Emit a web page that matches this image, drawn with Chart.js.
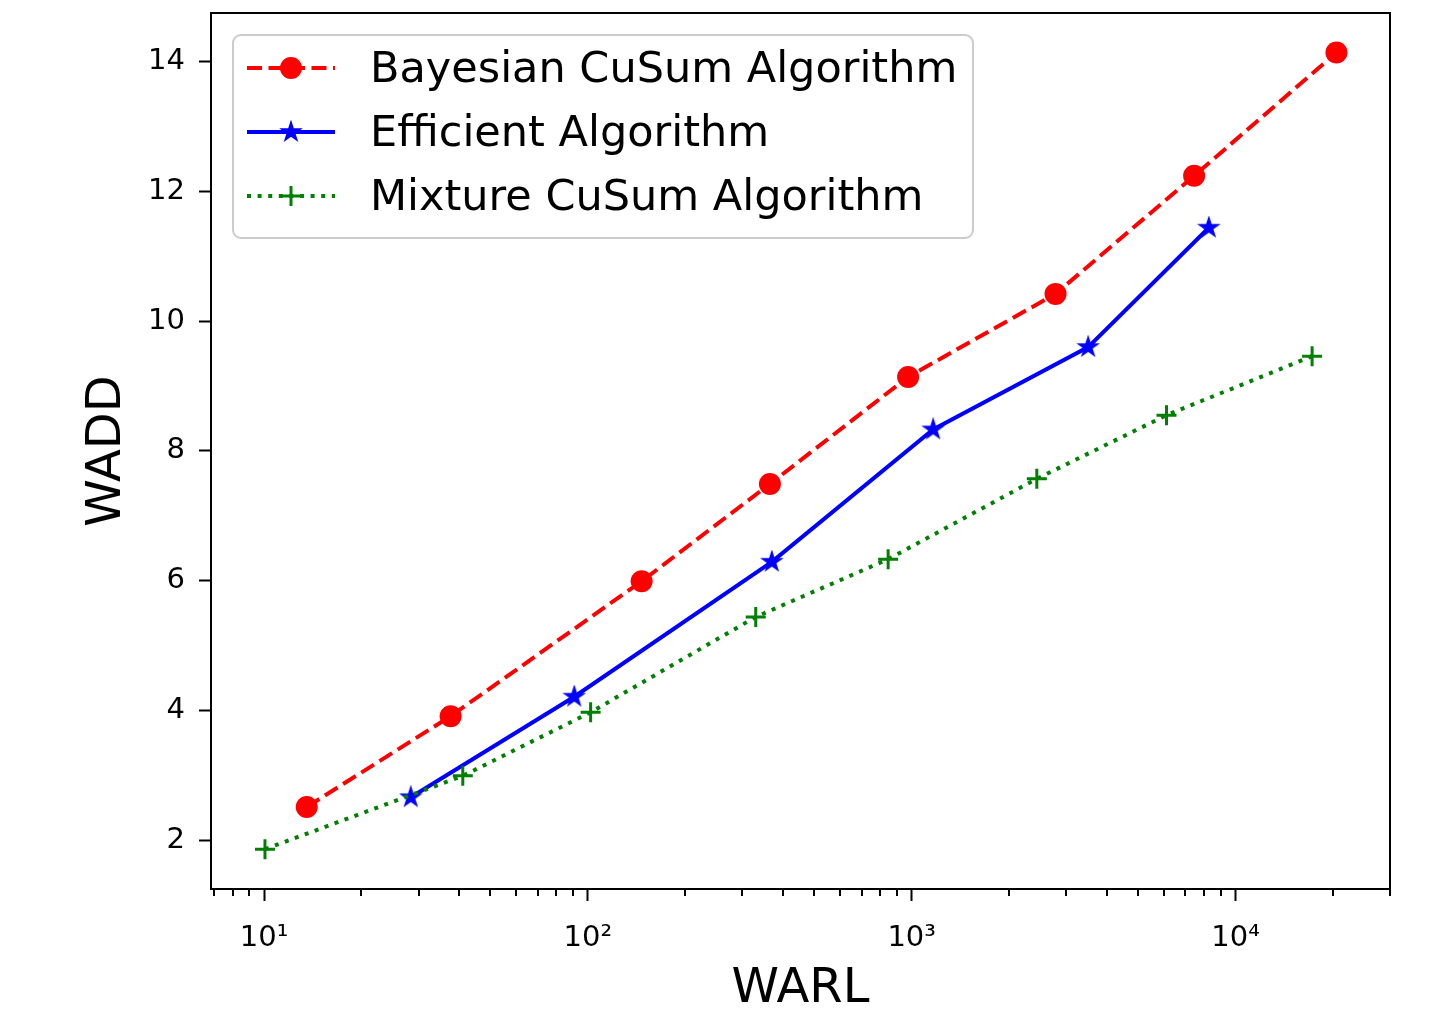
<!DOCTYPE html>
<html>
<head>
<meta charset="utf-8">
<script src="https://cdn.jsdelivr.net/npm/chart.js@4.4.1/dist/chart.umd.min.js"></script>
<style>
  body { margin: 0; background: #fff; }
  #wrap { width: 1449px; height: 1018px; }
</style>
</head>
<body>
<div id="wrap"><canvas id="warlChart"></canvas></div>
<script>
// values (WARL on x, WADD on y)
var bayesWarl = [13.55, 37.7, 146.6, 365, 975, 2782, 7452, 20500];
var bayesWadd = [2.51, 3.91, 5.99, 7.49, 9.14, 10.42, 12.24, 14.14];
var effWarl = [28.4, 90.8, 370, 1165, 3508, 8272];
var effWadd = [2.66, 4.21, 6.29, 8.33, 9.60, 11.44];
var mixWarl = [10.07, 41.1, 102, 330, 846, 2435, 6123, 17240];
var mixWadd = [1.86, 2.99, 3.97, 5.44, 6.33, 7.57, 8.55, 9.46];

var seriesNames = ['Bayesian CuSum Algorithm', 'Efficient Algorithm', 'Mixture CuSum Algorithm'];
var xMajorTicks = [10, 100, 1000, 10000];
var xTickLabels = ['10\u00b9', '10\u00b2', '10\u00b3', '10\u2074'];
var xMinorTicks = [7, 8, 9, 20, 30, 40, 50, 60, 70, 80, 90, 200, 300, 400, 500, 600, 700, 800, 900,
  2000, 3000, 4000, 5000, 6000, 7000, 8000, 9000, 20000, 30000];
var yTicks = [2, 4, 6, 8, 10, 12, 14];

const FONT = "'DejaVu Sans', sans-serif";

const toPoints = (xs, ys) => xs.map((x, i) => ({x: x, y: ys[i]}));

// filled five point star like matplotlib's '*'
const makeStar = (r, color) => {
  const c = document.createElement('canvas');
  c.width = c.height = Math.ceil(2 * r + 4);
  const g = c.getContext('2d');
  const cx = c.width / 2, cy = c.height / 2;
  g.beginPath();
  for (let i = 0; i < 10; i++) {
    const rad = i % 2 === 0 ? r : r * 0.382;
    const a = -Math.PI / 2 + i * Math.PI / 5;
    g.lineTo(cx + rad * Math.cos(a), cy + rad * Math.sin(a));
  }
  g.closePath();
  g.fillStyle = color;
  g.strokeStyle = color;
  g.lineWidth = 1.5;
  g.fill();
  g.stroke();
  return c;
};
const starImg = makeStar(10, '#0000ff');

// frame, short minor ticks and the matplotlib-style legend
const framePlugin = {
  id: 'framePlugin',
  afterDraw: (chart) => {
    const ctx = chart.ctx, area = chart.chartArea, xs = chart.scales.x;
    ctx.save();
    ctx.strokeStyle = '#000';
    ctx.lineWidth = 2;
    xMinorTicks.forEach((v) => {
      if (v < xs.min || v > xs.max) return;
      const px = Math.round(xs.getPixelForValue(v));
      ctx.beginPath();
      ctx.moveTo(px, area.bottom);
      ctx.lineTo(px, area.bottom + 7);
      ctx.stroke();
    });
    ctx.strokeRect(area.left, area.top, area.right - area.left, area.bottom - area.top);

    // legend box
    const bx = 233, by = 35, bw = 740, bh = 203, br = 8;
    ctx.beginPath();
    ctx.moveTo(bx + br, by);
    ctx.arcTo(bx + bw, by, bx + bw, by + bh, br);
    ctx.arcTo(bx + bw, by + bh, bx, by + bh, br);
    ctx.arcTo(bx, by + bh, bx, by, br);
    ctx.arcTo(bx, by, bx + bw, by, br);
    ctx.closePath();
    ctx.fillStyle = 'rgba(255,255,255,0.8)';
    ctx.fill();
    ctx.strokeStyle = '#cccccc';
    ctx.lineWidth = 2;
    ctx.stroke();

    chart.data.datasets.forEach((ds, i) => {
      const rowY = 68 + i * 64;
      ctx.save();
      ctx.strokeStyle = ds.borderColor;
      ctx.lineWidth = ds.borderWidth;
      ctx.setLineDash(ds.borderDash || []);
      ctx.beginPath();
      ctx.moveTo(247, rowY);
      ctx.lineTo(335, rowY);
      ctx.stroke();
      ctx.setLineDash([]);
      ctx.fillStyle = ds.pointBackgroundColor;
      ctx.strokeStyle = ds.pointBorderColor;
      ctx.lineWidth = ds.pointBorderWidth;
      Chart.helpers.drawPoint(ctx, {
        pointStyle: ds.pointStyle, rotation: 0,
        radius: ds.pointRadius, borderWidth: ds.pointBorderWidth
      }, 291, rowY);
      ctx.restore();
      ctx.fillStyle = '#000';
      ctx.font = '43px ' + FONT;
      ctx.textBaseline = 'middle';
      ctx.textAlign = 'left';
      ctx.fillText(ds.label, 370, rowY + 3);
    });
    ctx.restore();
  }
};

var ctx = document.getElementById('warlChart').getContext('2d');

var chart = new Chart(ctx, {
  type: 'line',
  data: {
    datasets: [{
      label: seriesNames[0],
      data: toPoints(bayesWarl, bayesWadd),
      borderColor: '#ff0000',
      borderWidth: 4,
      borderDash: [15, 6.5],
      pointStyle: 'circle',
      pointRadius: 11,
      pointBackgroundColor: '#ff0000',
      pointBorderColor: '#ff0000',
      pointBorderWidth: 0,
      order: 2
    }, {
      label: seriesNames[1],
      data: toPoints(effWarl, effWadd),
      borderColor: '#0000ff',
      borderWidth: 4,
      pointStyle: starImg,
      pointRadius: 11,
      pointBackgroundColor: '#0000ff',
      pointBorderColor: '#0000ff',
      pointBorderWidth: 0,
      order: 1
    }, {
      label: seriesNames[2],
      data: toPoints(mixWarl, mixWadd),
      borderColor: '#008000',
      borderWidth: 4,
      borderDash: [4, 6.6],
      pointStyle: 'cross',
      pointRadius: 10,
      pointBackgroundColor: '#008000',
      pointBorderColor: '#008000',
      pointBorderWidth: 3,
      order: 0
    }]
  },
  options: {
    responsive: true,
    maintainAspectRatio: false,
    animation: false,
    events: [],
    layout: { padding: { top: 13, right: 59, left: 0, bottom: 0 } },
    plugins: {
      legend: { display: false },
      tooltip: { enabled: false }
    },
    scales: {
      x: {
        type: 'logarithmic',
        min: 6.86,
        max: 30000,
        afterBuildTicks: (scale) => { scale.ticks = xMajorTicks.map((v) => ({value: v, major: true})); },
        afterFit: (scale) => {
          scale.height = 129;
          scale.paddingLeft = 0;
          scale.paddingRight = 0;
        },
        grid: { drawOnChartArea: false, tickLength: 12, tickWidth: 2, tickColor: '#000' },
        border: { display: false },
        ticks: {
          font: { family: FONT, size: 29 },
          color: '#000',
          padding: 20,
          maxRotation: 0,
          autoSkip: false,
          callback: (value) => xTickLabels[xMajorTicks.indexOf(value)]
        },
        title: {
          display: true,
          text: 'WARL',
          font: { family: FONT, size: 48 },
          color: '#000',
          padding: { top: 1, bottom: 0 }
        }
      },
      y: {
        type: 'linear',
        min: 1.246,
        max: 14.75,
        afterBuildTicks: (scale) => { scale.ticks = yTicks.map((v) => ({value: v})); },
        afterFit: (scale) => {
          scale.width = 211;
          scale.paddingTop = 0;
          scale.paddingBottom = 0;
        },
        grid: { drawOnChartArea: false, tickLength: 12, tickWidth: 2, tickColor: '#000' },
        border: { display: false },
        ticks: {
          font: { family: FONT, size: 29 },
          color: '#000',
          padding: 14
        },
        title: {
          display: true,
          text: 'WADD',
          font: { family: FONT, size: 48 },
          color: '#000',
          padding: { top: 79, bottom: 0 }
        }
      }
    }
  },
  plugins: [framePlugin]
});
</script>
</body>
</html>
